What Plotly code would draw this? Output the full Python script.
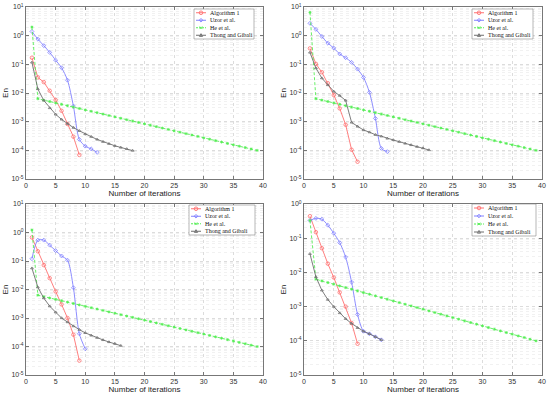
import plotly.graph_objects as go

# ---------------- data ----------------
names = ["Algorithm 1", "Uzor et al.", "He et al.", "Thong and Gibali"]

# Panel 1 (top-left)
p1_alg1 = [0.17, 0.035, 0.024, 0.012, 0.0057, 0.0024, 0.00083, 0.0003, 0.000069]
p1_uzor = [1.4, 0.76, 0.45, 0.26, 0.14, 0.076, 0.028, 0.0035, 0.00024, 0.00014, 0.000112, 0.000085]
p1_he_first = 2.0
p1_thong = [0.117, 0.0138, 0.0055, 0.0030, 0.0018, 0.0012, 0.00085, 0.00062, 0.00048, 0.00037,
            0.0003, 0.00024, 0.0002, 0.00017, 0.000144, 0.000126, 0.000112, 0.000098]

# Panel 2 (top-right)
p2_alg1 = [0.36, 0.104, 0.053, 0.022, 0.0085, 0.0029, 0.00078, 0.000105, 0.00004]
p2_uzor = [2.7, 1.66, 0.94, 0.55, 0.37, 0.23, 0.17, 0.117, 0.068, 0.035, 0.0105, 0.0013, 0.000117, 0.00009]
p2_he_first = 6.5
p2_thong = [0.26, 0.074, 0.033, 0.019, 0.0114, 0.0081, 0.0055, 0.00094, 0.00068, 0.00051, 0.00043,
            0.00035, 0.00031, 0.00026, 0.00023, 0.0002, 0.000174, 0.000154, 0.000134, 0.00012, 0.000103]

# Panel 3 (bottom-left)
p3_alg1 = [0.67, 0.22, 0.072, 0.025, 0.0085, 0.003, 0.001, 0.00026, 0.000032]
p3_uzor = [0.12, 0.54, 0.54, 0.36, 0.23, 0.15, 0.107, 0.0115, 0.00028, 0.000083]
p3_he_first = 1.23
p3_thong = [0.056, 0.012, 0.005, 0.0026, 0.0016, 0.001, 0.00072, 0.00052, 0.00039, 0.0003,
            0.000245, 0.000204, 0.00017, 0.000144, 0.000126, 0.000107]

# Panel 4 (bottom-right)
p4_alg1 = [0.44, 0.15, 0.051, 0.018, 0.0071, 0.0026, 0.001, 0.00033, 0.000082]
p4_uzor = [0.33, 0.38, 0.36, 0.24, 0.14, 0.074, 0.028, 0.0052, 0.00059, 0.00019, 0.00016, 0.000131, 0.000107]
p4_he_first = 0.33
p4_thong = [0.035, 0.0074, 0.003, 0.0016, 0.001, 0.00065, 0.00044, 0.00032, 0.00024, 0.00019,
            0.00016, 0.000131, 0.000107]

# He et al. tail (iterations 2..39), common to all panels
he_tail = [0.00631, 0.00564, 0.00504, 0.00451, 0.00403, 0.00360, 0.00322, 0.00288, 0.00257, 0.00230,
           0.00206, 0.00184, 0.00164, 0.00147, 0.00131, 0.00117, 0.00105, 0.000938, 0.000839, 0.000750,
           0.000670, 0.000599, 0.000535, 0.000479, 0.000428, 0.000382, 0.000342, 0.000306, 0.000273,
           0.000244, 0.000218, 0.000195, 0.000174, 0.000156, 0.000139, 0.000125, 0.000111, 0.0000995]

x_ticks = [0, 5, 10, 15, 20, 25, 30, 35, 40]

panels = [
    (p1_alg1, p1_uzor, p1_he_first, p1_thong, -5, 1),
    (p2_alg1, p2_uzor, p2_he_first, p2_thong, -5, 1),
    (p3_alg1, p3_uzor, p3_he_first, p3_thong, -5, 1),
    (p4_alg1, p4_uzor, p4_he_first, p4_thong, -5, 0),
]

# ---------------- layout geometry ----------------
W, H = 550, 396
# pixel boxes (x0, x1, ytop, ybottom)
boxes = [(26, 263, 7, 179), (304, 542, 7, 179), (26, 263, 204, 375), (304, 542, 204, 375)]
# legend boxes (x0, x1, ytop, ybottom) in pixels
legend_boxes = [(194, 254, 9, 39), (472, 533, 9, 39), (189, 255, 205, 235), (472, 536, 204, 236)]

colors = ["#ff7070", "#8080ff", "#55ee55", "#6e6e6e"]
symbols = ["circle-open", "diamond-open", "asterisk-open", "triangle-up-open"]
msize = [3.5, 3, 2.5, 2.5]


def px(x):
    return x / W


def py(y):
    return 1 - y / H


fig = go.Figure()
layout = {}
shapes = []
annotations = []
for i, (alg1, uzor, he_first, thong, ymin, ymax) in enumerate(panels):
    k = "" if i == 0 else str(i + 1)
    xa, ya = "x" + k, "y" + k
    series = [alg1, uzor, [he_first] + he_tail, thong]
    for j, vals in enumerate(series):
        xs = list(range(1, len(vals) + 1))
        line = dict(color=colors[j], width=0.9)
        if j == 1:
            line["shape"] = "spline"
            line["smoothing"] = 0.8
        if j == 2:
            line["dash"] = "3px,2px"
        fig.add_trace(go.Scatter(
            x=xs, y=vals, name=names[j], mode="lines+markers",
            line=line,
            marker=dict(symbol=symbols[j], size=msize[j], color=colors[j],
                        line=dict(width=0.8, color=colors[j])),
            xaxis=xa, yaxis=ya, showlegend=False))
    x0, x1, yt, yb = boxes[i]
    tickvals = [10 ** e for e in range(ymin, ymax + 1)]
    ticktext = ["10<sup>%d</sup>" % e for e in range(ymin, ymax + 1)]
    layout["xaxis" + k] = dict(
        domain=[px(x0), px(x1)], anchor=ya, range=[0, 40], tickvals=x_ticks,
        automargin=False,
        showgrid=True, gridcolor="#dcdcdc", griddash="dot", gridwidth=1,
        showline=True, linecolor="#777", linewidth=1, mirror="ticks",
        ticks="inside", ticklen=3, tickcolor="#777", zeroline=False,
        tickfont=dict(size=7, family="Liberation Sans", color="#333"),
        title=dict(text="Number of iterations", standoff=1,
                   font=dict(size=8, family="Liberation Sans", color="#222")))
    layout["yaxis" + k] = dict(
        domain=[py(yb), py(yt)], anchor=xa, type="log", range=[ymin, ymax],
        automargin=False,
        tickvals=tickvals, ticktext=ticktext,
        showgrid=True, gridcolor="#dcdcdc", griddash="dot", gridwidth=1,
        minor=dict(dtick="D1", showgrid=True, gridcolor="#f1f1f1", griddash="dot", ticks=""),
        showline=True, linecolor="#777", linewidth=1, mirror="ticks",
        ticks="inside", ticklen=3, tickcolor="#777", zeroline=False,
        tickfont=dict(size=7, family="Liberation Sans", color="#333"),
        title=dict(text="En", standoff=1,
                   font=dict(size=8, family="Liberation Sans", color="#222")))

    # custom compact legend (box, line sample, marker glyph, label)
    lx0, lx1, lyt, lyb = legend_boxes[i]
    shapes.append(dict(type="rect", xref="paper", yref="paper",
                       x0=px(lx0), x1=px(lx1), y0=py(lyb), y1=py(lyt),
                       line=dict(color="#888", width=0.6), fillcolor="white", layer="above"))
    row_h = (lyb - lyt) / 4.0
    for j in range(4):
        cy = lyt + row_h * (j + 0.5)
        dash = "2px,1px" if j == 2 else "solid"
        shapes.append(dict(type="line", xref="paper", yref="paper",
                           x0=px(lx0 + 2), x1=px(lx0 + 12), y0=py(cy), y1=py(cy),
                           line=dict(color=colors[j], width=1, dash=dash), layer="above"))
        mx, my = px(lx0 + 7), py(cy)
        common = dict(xref="paper", yref="paper", xsizemode="pixel", ysizemode="pixel",
                      xanchor=mx, yanchor=my, layer="above", line=dict(color=colors[j], width=0.9))
        if j == 0:
            shapes.append(dict(type="circle", x0=-1.8, x1=1.8, y0=-1.8, y1=1.8, **common))
        elif j == 1:
            shapes.append(dict(type="path", path="M -1.8 0 L 0 1.8 L 1.8 0 L 0 -1.8 Z", **common))
        elif j == 2:
            shapes.append(dict(type="path", path="M -1.3 -1.3 L 1.3 1.3 M -1.3 1.3 L 1.3 -1.3", **common))
        else:
            shapes.append(dict(type="path", path="M -1.6 -1.2 L 1.6 -1.2 L 0 1.6 Z", **common))
        annotations.append(dict(xref="paper", yref="paper", x=px(lx0 + 14), y=py(cy),
                                xanchor="left", yanchor="middle", showarrow=False,
                                text=names[j],
                                font=dict(size=6, family="Liberation Serif", color="#111")))

fig.update_layout(
    width=W, height=H, margin=dict(l=0, r=0, t=0, b=0, autoexpand=False),
    paper_bgcolor="white", plot_bgcolor="white", showlegend=False, hovermode=False,
    shapes=shapes, annotations=annotations, **layout)

fig.write_html("out.html", config={"displayModeBar": False, "staticPlot": True},
               post_script="document.body.style.margin='0px';document.body.style.padding='0px';")
